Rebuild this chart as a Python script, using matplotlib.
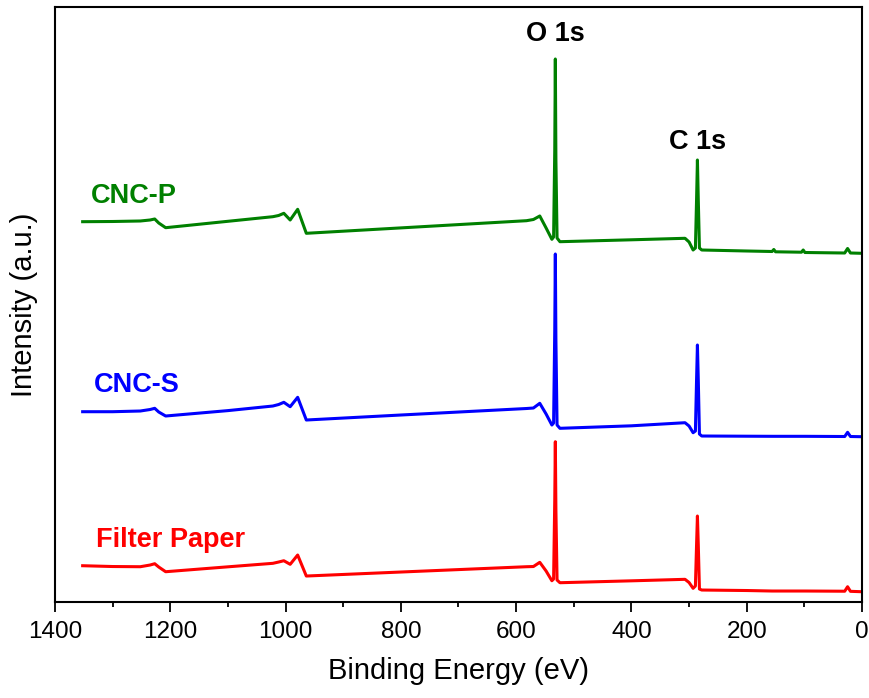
import matplotlib
matplotlib.use("Agg")
import matplotlib.pyplot as plt
from matplotlib.ticker import MultipleLocator

# Binding energy grid (eV), descending
energy = [1352, 1300, 1252, 1235, 1227, 1220, 1208, 1100, 1022, 1012, 1003, 992, 979, 964,
          800, 582, 570, 559, 548, 538, 535, 533, 532, 531, 529, 524, 400, 307, 300, 293,
          289, 287, 285.5, 284, 282, 278, 200, 156, 153, 150, 105, 102, 99, 30, 25, 20, 0.5]

# Intensities (a.u., stacked as displayed)
cnc_p = [380.3, 380.5, 381.0, 382.0, 383.0, 379.0, 374.3, 380.7, 385.3, 386.5, 388.7, 382.0, 392.7, 368.7,
         374.1, 381.3, 382.5, 386.0, 374.0, 362.7, 365.0, 452.0, 543.0, 442.0, 364.0, 360.3, 362.2, 363.7, 360.0, 352.0,
         354.0, 402.0, 442.0, 402.0, 354.0, 352.0, 351.0, 350.5, 352.5, 350.2, 349.8, 352.0, 349.5, 349.0, 353.5, 349.0, 348.7]

cnc_s = [190.3, 190.3, 191.0, 192.5, 193.7, 190.0, 186.0, 191.4, 196.0, 197.5, 199.7, 195.3, 204.7, 182.0,
         187.0, 193.5, 194.0, 198.7, 188.0, 177.0, 179.0, 272.0, 348.0, 262.0, 177.0, 173.7, 176.2, 179.3, 176.0, 169.3,
         171.0, 222.0, 257.0, 222.0, 168.0, 166.0, 165.8, 165.7, 165.7, 165.7, 165.7, 165.7, 165.7, 165.5, 169.7, 165.5, 165.3]

filter_paper = [36.3, 35.5, 35.3, 37.0, 38.3, 35.0, 30.3, 35.2, 38.7, 40.0, 41.3, 37.7, 47.0, 26.0,
                30.0, 35.3, 35.5, 39.7, 31.0, 21.3, 23.0, 102.0, 160.3, 92.0, 22.0, 19.3, 21.2, 22.7, 19.5, 13.7,
                16.0, 57.0, 86.0, 57.0, 13.0, 12.0, 11.5, 11.0, 11.0, 11.0, 11.0, 11.0, 11.0, 10.8, 15.3, 10.7, 10.3]

series_names = ["CNC-P", "CNC-S", "Filter Paper"]
series_colors = ["#008000", "#0000FF", "#FF0000"]
peak_labels = ["O 1s", "C 1s"]

plt.rcParams["font.family"] = ["Liberation Sans", "DejaVu Sans"]

fig = plt.figure(figsize=(8.70, 6.98), dpi=100)
ax = fig.add_axes([0.0632, 0.1375, 0.9276, 0.8525])

for y, c in zip([cnc_p, cnc_s, filter_paper], series_colors):
    ax.plot(energy, y, color=c, lw=2.2, solid_joinstyle="round")

ax.set_xlim(1400, 0)
ax.set_ylim(0, 595)

ax.xaxis.set_major_locator(MultipleLocator(200))
ax.xaxis.set_minor_locator(MultipleLocator(100))
ax.tick_params(axis="x", which="major", direction="out", length=7.5, width=1.3, pad=6, labelsize=17.5)
ax.tick_params(axis="x", which="minor", direction="out", length=3.5, width=1.3)
ax.tick_params(axis="y", left=False, labelleft=False)
for s in ax.spines.values():
    s.set_linewidth(1.5)

ax.set_xlabel("Binding Energy (eV)", fontsize=21, labelpad=10)
ax.set_ylabel("Intensity (a.u.)", fontsize=21, labelpad=12)

# sample labels (left, baseline) in data coords
label_pos = [(1337, 398.7), (1333, 210.3), (1328, 54.7)]
for (x, y), name, c in zip(label_pos, series_names, series_colors):
    ax.text(x, y, name, color=c, fontsize=19.5, fontweight="bold", ha="left", va="baseline")

peak_pos = [(532, 561), (285.5, 452.7)]
for (x, y), name in zip(peak_pos, peak_labels):
    ax.text(x, y, name, color="black", fontsize=19.5, fontweight="bold", ha="center", va="baseline")

fig.savefig("out.png", dpi=100)
